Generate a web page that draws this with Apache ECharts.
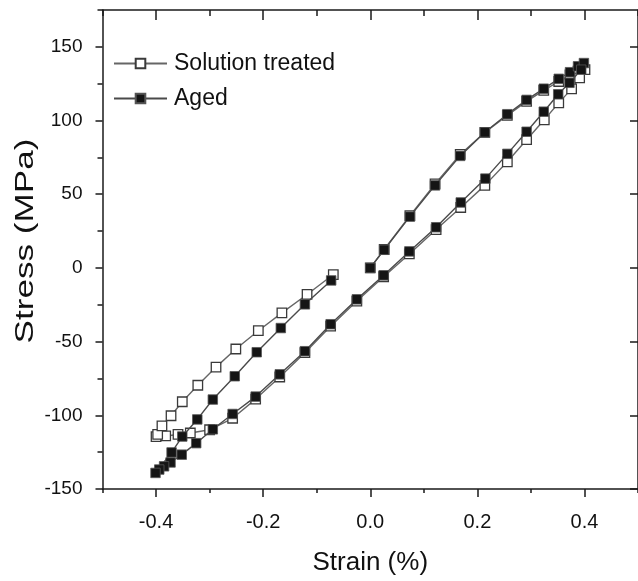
<!DOCTYPE html>
<html>
<head>
<meta charset="utf-8">
<script src="https://cdn.jsdelivr.net/npm/echarts@6/dist/echarts.min.js"></script>
<style>
html,body{margin:0;padding:0;background:#fff;}
#chart{width:638px;height:581px;}
</style>
</head>
<body>
<div id="chart"></div>
<script>
// ---- data ----
const seriesNames = ['Solution treated', 'Aged'];

const strainST = [0, 0.026, 0.074, 0.121, 0.168, 0.214, 0.256, 0.292, 0.324, 0.352, 0.373, 0.388, 0.401,
  0.391, 0.376, 0.352, 0.325, 0.292, 0.256, 0.214, 0.169, 0.123, 0.073, 0.025, -0.025, -0.074, -0.122,
  -0.169, -0.214, -0.257, -0.300, -0.336, -0.359, -0.382, -0.400, -0.397, -0.389, -0.372, -0.351, -0.322,
  -0.288, -0.251, -0.209, -0.165, -0.118, -0.069];
const stressST = [0, 12.5, 35.5, 57, 77, 92, 103.5, 113, 120.5, 126.5, 131, 133.5, 134.5,
  129, 121.5, 112, 100.5, 87, 72, 56, 41, 26, 9.5, -6, -22.5, -39.5, -57.5,
  -74, -89, -102, -109.8, -112, -113, -114, -114.5, -113, -107.2, -100.3, -90.8, -79.6,
  -67.3, -55, -42.6, -30.5, -18, -4.5];

const strainAged = [0, 0.026, 0.074, 0.121, 0.168, 0.214, 0.256, 0.292, 0.324, 0.352, 0.373, 0.388, 0.399,
  0.394, 0.372, 0.351, 0.324, 0.292, 0.256, 0.215, 0.169, 0.123, 0.073, 0.025, -0.025, -0.074, -0.122,
  -0.169, -0.214, -0.257, -0.294, -0.325, -0.352, -0.373, -0.385, -0.394, -0.401, -0.371, -0.351, -0.323,
  -0.294, -0.253, -0.212, -0.167, -0.122, -0.073];
const stressAged = [0, 12.3, 34.8, 56, 76, 92, 104.3, 114, 121.6, 128.3, 132.8, 136.8, 139,
  134.5, 125.6, 117.8, 106, 92.4, 77.4, 60.6, 44.4, 27.6, 11.2, -5, -21.3, -38.2, -56.5,
  -72.2, -87.3, -99.1, -109.5, -118.9, -126.7, -132, -134.6, -136.8, -139.1, -125.2, -114.4, -102.8,
  -89.3, -73.5, -57.2, -40.8, -24.7, -8.5];

const xMajorTicks = [-0.4, -0.2, 0, 0.2, 0.4];
const yMajorTicks = [-150, -100, -50, 0, 50, 100, 150];

// ---- chart ----
const FONT = "'Liberation Sans', Arial, Helvetica, sans-serif";
const AX = '#1a1a1a';
const zip = (xs, ys) => xs.map((x, i) => [x, ys[i]]);

const chart = echarts.init(document.getElementById('chart'), null, {renderer: 'canvas'});

const baseX = {
  type: 'value', min: -0.5, max: 0.5, interval: 0.1, gridIndex: 0,
  splitLine: {show: false}
};
const baseY = {
  type: 'value', min: -150, max: 175, interval: 25, gridIndex: 0,
  splitLine: {show: false}
};

chart.setOption({
  animation: false,
  backgroundColor: '#fff',
  textStyle: {fontFamily: FONT},
  grid: {left: 102.5, right: -6, top: 10, bottom: 88.3, containLabel: false},
  legend: {
    orient: 'vertical',
    left: 113, top: 52, padding: 0,
    itemWidth: 53, itemHeight: 12, itemGap: 12,
    data: seriesNames,
    textStyle: {fontFamily: FONT, fontSize: 23, color: '#111', padding: [0, 0, 0, 2]}
  },
  xAxis: [
    Object.assign({}, baseX, {
      position: 'bottom',
      name: 'Strain (%)', nameLocation: 'middle', nameGap: 61,
      nameTextStyle: {fontFamily: FONT, fontSize: 26, color: '#111'},
      axisLine: {show: true, onZero: false, lineStyle: {color: AX, width: 1.5}},
      axisTick: {show: true, inside: false, length: 4, lineStyle: {color: AX, width: 1.5}},
      axisLabel: {show: true, customValues: xMajorTicks, margin: 23, fontSize: 20, color: '#111', fontFamily: FONT,
        formatter: v => v.toFixed(1)}
    }),
    Object.assign({}, baseX, {
      position: 'bottom',
      axisLine: {show: false, onZero: false},
      axisTick: {show: true, inside: false, length: 8, customValues: xMajorTicks, lineStyle: {color: AX, width: 1.5}},
      axisLabel: {show: false}
    }),
    Object.assign({}, baseX, {
      position: 'top',
      axisLine: {show: true, onZero: false, lineStyle: {color: AX, width: 1.5}},
      axisTick: {show: true, inside: true, length: 6, lineStyle: {color: AX, width: 1.5}},
      axisLabel: {show: false}
    }),
    Object.assign({}, baseX, {
      position: 'top',
      axisLine: {show: false, onZero: false},
      axisTick: {show: true, inside: true, length: 10, customValues: xMajorTicks, lineStyle: {color: AX, width: 1.5}},
      axisLabel: {show: false}
    })
  ],
  yAxis: [
    Object.assign({}, baseY, {
      position: 'left',
      axisLine: {show: true, onZero: false, lineStyle: {color: AX, width: 1.5}},
      axisTick: {show: true, inside: false, length: 5, lineStyle: {color: AX, width: 1.5}},
      axisLabel: {show: true, customValues: yMajorTicks, margin: 20, fontSize: 19, color: '#111', fontFamily: FONT}
    }),
    Object.assign({}, baseY, {
      position: 'left',
      axisLine: {show: false, onZero: false},
      axisTick: {show: true, inside: false, length: 7, customValues: yMajorTicks, lineStyle: {color: AX, width: 1.5}},
      axisLabel: {show: false}
    }),
    Object.assign({}, baseY, {
      position: 'right',
      axisLine: {show: true, onZero: false, lineStyle: {color: AX, width: 1.5}},
      axisTick: {show: true, inside: true, length: 8, customValues: yMajorTicks, lineStyle: {color: AX, width: 1.5}},
      axisLabel: {show: false}
    })
  ],
  graphic: [{
    type: 'text', x: 26, y: 241, rotation: Math.PI / 2, scaleX: 1.35,
    style: {text: 'Stress (MPa)', fontFamily: FONT, fontSize: 26, fill: '#111', align: 'center', verticalAlign: 'middle'}
  }],
  series: [
    {
      name: seriesNames[0], type: 'line', xAxisIndex: 0, yAxisIndex: 0,
      data: zip(strainST, stressST),
      symbol: 'rect', symbolSize: 9.5, showSymbol: true,
      lineStyle: {color: '#666', width: 1.4},
      itemStyle: {color: '#fff', borderColor: '#3a3a3a', borderWidth: 1.3},
      z: 2
    },
    {
      name: seriesNames[1], type: 'line', xAxisIndex: 0, yAxisIndex: 0,
      data: zip(strainAged, stressAged),
      symbol: 'rect', symbolSize: 9.5, showSymbol: true,
      lineStyle: {color: '#4a4a4a', width: 1.4},
      itemStyle: {color: '#151515', borderColor: '#555', borderWidth: 0.8},
      z: 3
    }
  ]
});
</script>
</body>
</html>
